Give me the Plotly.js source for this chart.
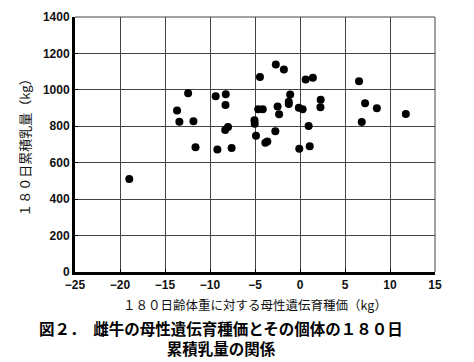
<!DOCTYPE html>
<html><head><meta charset="utf-8">
<script src="https://cdn.plot.ly/plotly-3.0.1.min.js"></script>
<style>html,body{margin:0;padding:0;background:#fff}#c{width:474px;height:362px}</style>
</head><body><div id="c"></div>
<script>
const xVals = [-9.37,-8.25,-8.28,-4.45,-2.69,-1.79,0.63,1.43,6.56,-1.09,-1.25,-1.25,-2.49,-2.32,-4.64,-4.14,-0.13,0.29,2.30,2.27,7.23,8.54,11.76,6.86,-5.06,-5.03,-8.0,-8.31,-2.74,0.96,-4.89,-3.85,-3.63,-9.18,-7.60,-0.08,1.08,-12.43,-13.66,-13.40,-11.84,-11.61,-18.97];
const yVals = [965,976,917,1071,1139,1112,1057,1067,1047,975,935,922,908,866,894,894,902,894,946,905,927,899,867,823,833,814,796,779,773,802,748,710,716,673,681,676,691,982,886,825,827,685,511];
const xTicks = [-25,-20,-15,-10,-5,0,5,10,15];
const yTicks = [0,200,400,600,800,1000,1200,1400];
const xTitle = '１８０日齢体重に対する母性遺伝育種価（kg）';
const yTitle = '１８０日累積乳量（kg）';
const caption1 = '図２．　雌牛の母性遺伝育種価とその個体の１８０日';
const caption2 = '累積乳量の関係';

const jp = '"Noto Sans CJK JP", sans-serif';
const num = '"Liberation Sans", Arial, sans-serif';

Plotly.newPlot('c', [{
  x: xVals, y: yVals, type: 'scatter', mode: 'markers',
  marker: {color: '#000', size: 8}, hoverinfo: 'none'
}], {
  width: 474, height: 362,
  margin: {l: 75, r: 39, t: 17, b: 90},
  paper_bgcolor: '#fff', plot_bgcolor: '#fff',
  showlegend: false,
  xaxis: {
    range: [-25, 15], tickvals: xTicks, ticks: 'inside', ticklen: 3, tickcolor: '#000',
    showgrid: true, gridcolor: '#444', gridwidth: 1, zeroline: false,
    showline: true, linecolor: '#000', linewidth: 3,
    tickfont: {family: num, size: 12, color: '#111', weight: 'bold'},
    title: {text: xTitle, font: {family: jp, size: 12.5, color: '#111'}, standoff: 10}
  },
  yaxis: {
    range: [0, 1400], tickvals: yTicks, ticks: 'inside', ticklen: 3, tickcolor: '#000',
    showgrid: true, gridcolor: '#444', gridwidth: 1, zeroline: false,
    showline: true, linecolor: '#000', linewidth: 3,
    tickfont: {family: num, size: 12, color: '#111', weight: 'bold'},
    title: {text: yTitle, font: {family: jp, size: 13, color: '#111'}, standoff: 10}
  },
  shapes: [
    {type: 'line', xref: 'paper', yref: 'paper', x0: 0, x1: 1, y0: 1, y1: 1, line: {color: '#444', width: 1}},
    {type: 'line', xref: 'paper', yref: 'paper', x0: 1, x1: 1, y0: 0, y1: 1, line: {color: '#444', width: 1}}
  ],
  annotations: [
    {text: caption1 + '<br>' + caption2, xref: 'paper', yref: 'paper', x: (221-75)/360, y: -(338-272)/255,
     xanchor: 'center', yanchor: 'middle', align: 'center', showarrow: false,
     font: {family: jp, size: 15.5, color: '#000', weight: 'bold'}}
  ]
}, {displayModeBar: false, staticPlot: true});
</script>
</body></html>
